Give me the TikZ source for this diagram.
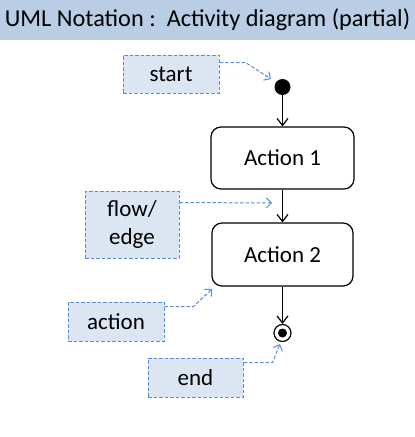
\documentclass[tikz,border=0pt]{standalone}
\usepackage{fontspec}
\setmainfont{Carlito}
\usetikzlibrary{arrows.meta}
\definecolor{titlebg}{HTML}{B9CDE5}
\definecolor{notefill}{HTML}{DCE6F2}
\definecolor{noteline}{HTML}{5B8CD0}
\definecolor{notearrow}{HTML}{5B8CD0}
\begin{document}
\begin{tikzpicture}[x=1pt,y=-1pt,
 note/.style={draw=noteline, dash pattern=on 3.5pt off 2pt, fill=notefill, line width=1pt, inner sep=0pt, font=\fontsize{23}{28}\selectfont, align=center},
 act/.style={draw, rounded corners=10pt, line width=1.2pt, fill=white, inner sep=0pt, font=\fontsize{23}{28}\selectfont},
 flow/.style={-{Straight Barb[length=7pt,width=11pt]}, line width=1.2pt},
 notearr/.style={draw=notearrow, dash pattern=on 3.5pt off 2pt, line width=1pt, -{Straight Barb[length=5pt,width=10pt]}}]
\useasboundingbox (0,0) rectangle (415,437);
\node[fill=titlebg, minimum width=415pt, minimum height=40pt, inner sep=0pt, font=\fontsize{24.3}{28}\selectfont] (title) at (207.5,20) {UML Notation :\ \ Activity diagram (partial)};
% notes
\node[note, minimum width=96pt, minimum height=38pt] (sn) at (171,74) {start};
\node[note, minimum width=94pt, minimum height=67pt] (fn) at (132,224.5) {flow/\\edge};
\node[note, minimum width=96pt, minimum height=39pt] (an) at (116,321.5) {action};
\node[note, minimum width=95pt, minimum height=39pt] (en) at (195.5,377.5) {end};
% activity
\node[circle, fill=black, minimum size=16pt, inner sep=0pt] (st) at (282.5,87) {};
\node[act, minimum width=143pt, minimum height=62pt] (a1) at (282.5,158) {Action 1};
\node[act, minimum width=141pt, minimum height=63pt] (a2) at (282.5,254.5) {Action 2};
\node[circle, draw, line width=1.2pt, fill=white, minimum size=17pt, inner sep=0pt] (fin) at (282.5,333) {};
\node[circle, fill=black, minimum size=9pt, inner sep=0pt] (finc) at (fin.center) {};
\draw[flow] (st) -- (a1);
\draw[flow] (a1) -- (a2);
\draw[flow] (a2) -- (fin);
% note pointers
\coordinate (t1) at (271,79);
\coordinate (t2) at (272,203);
\coordinate (t3) at (212,289);
\coordinate (t4) at (280,344);
\draw[notearr] ([yshift=-8pt]sn.north east) -- ++(26,0) -- (t1);
\draw[notearr] ([yshift=-12pt]fn.north east) -- (t2);
\draw[notearr] ([yshift=-5pt]an.north east) -- ++(29,0) -- (t3);
\draw[notearr] ([yshift=-5pt]en.north east) -- ++(29,0) -- (t4);
\end{tikzpicture}
\end{document}
